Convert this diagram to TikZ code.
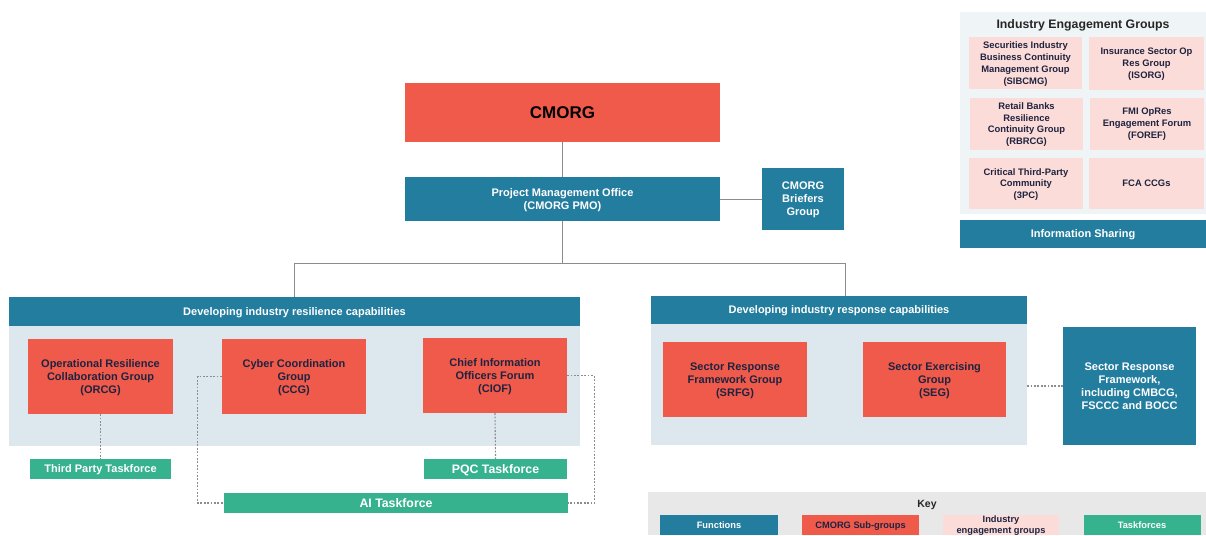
\documentclass[tikz,border=0pt]{standalone}
\usepackage{fontspec}
\setmainfont{Liberation Sans}
\usepackage{xcolor}
\usepackage{tikz}
\usetikzlibrary{positioning}
\definecolor{cmorgred}{RGB}{239,90,75}
\definecolor{funcblue}{RGB}{35,125,158}
\definecolor{panelgrey}{RGB}{221,232,238}
\definecolor{taskgreen}{RGB}{54,178,143}
\definecolor{industrypink}{RGB}{251,220,216}
\definecolor{iegback}{RGB}{239,244,246}
\definecolor{keyback}{RGB}{232,232,232}
\definecolor{navytext}{RGB}{31,35,64}
\definecolor{treeline}{RGB}{140,140,140}

\tikzset{
  box/.style={rectangle, inner sep=0pt, text depth=0pt, align=center, font=\bfseries\fontsize{11}{13}\selectfont},
  subgroup/.style={box, fill=cmorgred, text=navytext},
  function/.style={box, fill=funcblue, text=white},
  taskforce/.style={box, fill=taskgreen, text=white},
  industry/.style={box, fill=industrypink, text=navytext, font=\bfseries\fontsize{9.4}{11.8}\selectfont},
  panel/.style={rectangle, inner sep=0pt, fill=panelgrey},
  tree/.style={draw=treeline, line width=1pt},
  link/.style={draw=treeline, line width=1.1pt, dash pattern=on 1.8pt off 1.6pt},
}

\begin{document}
\begin{tikzpicture}[x=1pt,y=-1pt]
\useasboundingbox (0,0) rectangle (1206,535);

% top of the structure
\node[subgroup, text=black, font=\bfseries\fontsize{17}{20}\selectfont, minimum width=315, minimum height=59] (cmorg) at (562.5,112.5) {CMORG};
\node[function, minimum width=315, minimum height=44] (pmo) at (562.5,199) {Project Management Office\\(CMORG PMO)};
\node[function, minimum width=82, minimum height=62] (briefers) at (803,199) {CMORG\\Briefers\\Group};
\coordinate (split) at (562.5,263);

% resilience side
\node[panel, minimum width=571, minimum height=120] (resback) at (294.5,386) {};
\node[function, minimum width=571, minimum height=29] (reshead) at (294.5,311.5) {Developing industry resilience capabilities};
\node[subgroup, minimum width=145, minimum height=75] (orcg) at (100.5,376.5) {Operational Resilience\\Collaboration Group\\(ORCG)};
\node[subgroup, minimum width=144, minimum height=75] (ccg) at (294,376.5) {Cyber Coordination\\Group\\(CCG)};
\node[subgroup, minimum width=144, minimum height=75] (ciof) at (495,375.5) {Chief Information\\Officers Forum\\(CIOF)};
\node[taskforce, font=\bfseries\fontsize{11}{13}\selectfont, minimum width=141, minimum height=20] (thirdparty) at (100.5,469) {Third Party Taskforce};
\node[taskforce, font=\bfseries\fontsize{12.3}{14}\selectfont, minimum width=143, minimum height=20] (pqc) at (495.5,469) {PQC Taskforce};
\node[taskforce, font=\bfseries\fontsize{12.3}{14}\selectfont, minimum width=344, minimum height=20] (ai) at (396,503) {AI Taskforce};

% response side
\node[panel, minimum width=376, minimum height=121] (rspback) at (839,384.5) {};
\node[function, minimum width=376, minimum height=28] (rsphead) at (839,310) {Developing industry response capabilities};
\node[subgroup, minimum width=144, minimum height=75] (srfg) at (735,379.5) {Sector Response\\Framework Group\\(SRFG)};
\node[subgroup, minimum width=143, minimum height=75] (seg) at (934.5,379.5) {Sector Exercising\\Group\\(SEG)};
\node[function, minimum width=133, minimum height=118] (srf) at (1129.5,386) {Sector Response\\Framework,\\including CMBCG,\\FSCCC and BOCC};

% industry engagement groups
\node[rectangle, fill=iegback, minimum width=246, minimum height=202] (iegback) at (1083,113) {};
\node[font=\bfseries\fontsize{12.3}{14}\selectfont, text=black!85] (iegtitle) at (1083,25) {Industry Engagement Groups};
\node[industry, minimum width=113, minimum height=52] (sibcmg) at (1025.5,63) {Securities Industry\\Business Continuity\\Management Group\\(SIBCMG)};
\node[industry, minimum width=115, minimum height=52] (isorg) at (1146.5,63.5) {Insurance Sector Op\\Res Group\\(ISORG)};
\node[industry, minimum width=113, minimum height=52] (rbrcg) at (1026.5,123.5) {Retail Banks\\Resilience\\Continuity Group\\(RBRCG)};
\node[industry, minimum width=114, minimum height=52] (foref) at (1147,123.5) {FMI OpRes\\Engagement Forum\\(FOREF)};
\node[industry, minimum width=114, minimum height=51] (tpc) at (1026,183.5) {Critical Third-Party\\Community\\(3PC)};
\node[industry, minimum width=115, minimum height=51] (fca) at (1146.5,183.5) {FCA CCGs};
\node[function, minimum width=246, minimum height=28] (infoshare) at (1083,234) {Information Sharing};

% key
\node[rectangle, fill=keyback, minimum width=558, minimum height=43] (keyback) at (927,513.5) {};
\node[font=\bfseries\fontsize{10.5}{12}\selectfont, text=black!85] (keytitle) at (927,504.5) {Key};
\node[function, font=\bfseries\fontsize{9.3}{11}\selectfont, minimum width=118, minimum height=20] (keyfunc) at (719,525) {Functions};
\node[subgroup, font=\bfseries\fontsize{9.3}{11}\selectfont, minimum width=117, minimum height=20] (keysub) at (860.5,525) {CMORG Sub-groups};
\node[industry, font=\bfseries\fontsize{9.3}{11}\selectfont, minimum width=116, minimum height=20] (keyind) at (1001,525) {Industry\\engagement groups};
\node[taskforce, font=\bfseries\fontsize{9.3}{11}\selectfont, minimum width=117, minimum height=20] (keytask) at (1142,525) {Taskforces};

% connectors
\draw[tree] (cmorg.south) -- (pmo.north);
\draw[tree] (pmo.east) -- (briefers.west);
\draw[tree] (pmo.south) -- (split);
\draw[tree] (split) -| (reshead.north);
\draw[tree] (split) -| ([xshift=6pt]rsphead.north);
\draw[link] (orcg.south) -- (thirdparty.north);
\draw[link] (ciof.south) -- (pqc.north);
\draw[link] (ccg.west) -- ++(-24,0) |- (ai.west);
\draw[link] (ciof.east) -- ++(27,0) |- (ai.east);
\draw[link] (rspback.east |- srf.west) -- (srf.west);
\end{tikzpicture}
\end{document}
